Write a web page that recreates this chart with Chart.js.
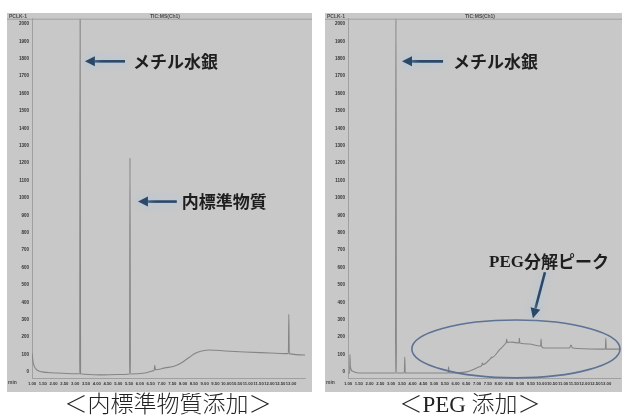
<!DOCTYPE html>
<html><head><meta charset="utf-8">
<script src="https://cdn.jsdelivr.net/npm/chart.js@4/dist/chart.umd.min.js"></script>
<style>
html,body{margin:0;padding:0;background:#fff;width:625px;height:417px;overflow:hidden;font-family:"Noto Sans CJK JP",sans-serif;}
.panel{position:absolute;background:#c8c8c8;}
#pA{left:7px;top:13px;width:305px;height:379px;}
#pB{left:325px;top:13px;width:297px;height:379px;}
.panel canvas{position:absolute;left:0;top:0;}
.hdr{position:absolute;font:bold 5px "Liberation Sans",sans-serif;color:#4a4a4a;white-space:nowrap;line-height:5px;}
.cap{position:absolute;top:392px;height:25px;line-height:25px;font-size:23px;color:#222;white-space:nowrap;text-align:center;font-family:"Liberation Serif","Noto Sans CJK JP",serif;font-weight:300;}
</style></head>
<body>
<div class="panel" id="pA">
  <canvas id="cA" width="305" height="379"></canvas>
  <div class="hdr" style="left:2px;top:1px;">PCLK-1</div>
  <div class="hdr" style="left:143px;top:1px;">TIC:MS(Ch1)</div>
  <div class="hdr" style="left:1px;top:367px;">min</div>
</div>
<div class="panel" id="pB">
  <canvas id="cB" width="297" height="379"></canvas>
  <div class="hdr" style="left:2px;top:1px;">PCLK-1</div>
  <div class="hdr" style="left:140px;top:1px;">TIC:MS(Ch1)</div>
  <div class="hdr" style="left:1px;top:367px;">min</div>
</div>
<div class="cap" style="left:40px;width:256px;">＜内標準物質添加＞</div>
<div class="cap" style="left:370px;width:200px;">＜PEG 添加＞</div>
<script>
// ---- data (retention time in min, signal intensity) ----
const timesA  = [1.00,1.05,1.12,1.23,1.46,2.06,2.99,3.21,3.23,3.25,4.15,5.00,5.52,5.54,5.56,6.23,6.60,6.66,6.69,6.72,7.16,7.62,7.99,8.31,8.59,8.87,9.24,9.94,10.86,12.02,12.88,12.90,12.92,13.65];
const signalA = [109,57,29,11,0,-6,-11,-11,2150,-11,-17,-15,-12,1230,-12,-6,6,10,38,12,23,34,57,86,109,120,126,120,114,109,105,331,105,97];

const timesB  = [1.00,1.08,1.09,1.11,1.20,1.50,3.21,3.23,3.25,3.62,3.64,3.66,5.66,5.68,5.70,6.51,6.88,7.11,7.23,7.25,7.27,7.57,7.65,7.67,7.69,8.04,8.34,8.36,8.38,8.40,8.64,8.95,8.97,8.99,9.43,9.92,9.96,9.98,10.00,10.12,11.30,11.37,11.44,12.67,12.97,12.99,13.01,13.65];
const signalB = [-6,-6,100,30,5,-6,-6,2150,-6,-6,86,-6,-6,30,-6,0,17,29,40,51,42,69,80,86,82,126,166,170,189,170,171,166,194,166,160,149,150,189,148,137,137,154,137,131,131,194,131,131];

const xTickValues = [1.0,1.5,2.0,2.5,3.0,3.5,4.0,4.5,5.0,5.5,6.0,6.5,7.0,7.5,8.0,8.5,9.0,9.5,10.0,10.5,11.0,11.5,12.0,12.5,13.0];
const yTickValues = [0,100,200,300,400,500,600,700,800,900,1000,1100,1200,1300,1400,1500,1600,1700,1800,1900,2000];

// annotations (data coordinates)
const notesA = [
  {parts:['','メチル水銀'], at:[5.68,1785], align:'left', from:[5.31,1785], to:[3.45,1785]},
  {parts:['','内標準物質'], at:[7.94,979], align:'left', from:[7.71,979], to:[5.91,979]}
];
const notesB = [
  {parts:['','メチル水銀'], at:[5.88,1785], align:'left', from:[5.42,1785], to:[3.51,1785]},
  {parts:['PEG','分解ピーク'], at:[10.35,635], align:'center', from:[10.16,573], to:[9.60,309]}
];
const ellipsesB = [ {center:[8.81,132], rx:4.84, ry:166} ];

// ---- plugin drawing annotations through the scales ----
const annotate = {
  id:'annotate',
  afterDatasetsDraw(chart, args, o){
    const ctx = chart.ctx, xs = chart.scales.x, ys = chart.scales.y;
    const px = v => xs.getPixelForValue(v), py = v => ys.getPixelForValue(v);
    const ca = chart.chartArea;
    ctx.save();
    ctx.strokeStyle = '#a0a0a0'; ctx.lineWidth = 1;
    ctx.beginPath(); ctx.moveTo(0, ca.top+0.5); ctx.lineTo(chart.width, ca.top+0.5); ctx.stroke();
    const ells = o.ellipses || [];
    for (const e of ells){
      const cx = px(e.center[0]), cy = py(e.center[1]);
      const rx = Math.abs(px(e.center[0]+e.rx)-cx), ry = Math.abs(py(e.center[1]+e.ry)-cy);
      ctx.strokeStyle = '#5d7294'; ctx.lineWidth = 1.6;
      ctx.beginPath(); ctx.ellipse(cx, cy, rx, ry, 0, 0, Math.PI*2); ctx.stroke();
    }
    const notes = o.notes || [];
    for (const n of notes){
      const x1 = px(n.from[0]), y1 = py(n.from[1]), x2 = px(n.to[0]), y2 = py(n.to[1]);
      const ang = Math.atan2(y2-y1, x2-x1), hl = 10, hw = 5;
      const bx = x2 - hl*Math.cos(ang), by = y2 - hl*Math.sin(ang);
      ctx.save();
      ctx.shadowColor = 'rgba(165,200,232,0.95)'; ctx.shadowBlur = 9;
      ctx.strokeStyle = '#2c4868'; ctx.fillStyle = '#2c4868'; ctx.lineWidth = 2.6;
      ctx.beginPath(); ctx.moveTo(x1,y1); ctx.lineTo(bx,by); ctx.stroke();
      ctx.beginPath(); ctx.moveTo(x2,y2);
      ctx.lineTo(bx - hw*Math.sin(ang), by + hw*Math.cos(ang));
      ctx.lineTo(bx + hw*Math.sin(ang), by - hw*Math.cos(ang));
      ctx.closePath(); ctx.fill();
      ctx.restore();
    }
    for (const n of notes){
      const latin = n.parts[0], rest = n.parts[1];
      const lf = 'bold 17px "Liberation Serif", serif';
      const cf = 'bold 17px "Noto Sans CJK JP", sans-serif';
      ctx.font = lf; const w1 = latin ? ctx.measureText(latin).width : 0;
      ctx.font = cf; const w2 = ctx.measureText(rest).width;
      let sx = px(n.at[0]);
      const sy = py(n.at[1]);
      if (n.align === 'center') sx -= (w1+w2)/2;
      ctx.fillStyle = '#1e1e1e'; ctx.textBaseline = 'middle'; ctx.textAlign = 'left';
      if (latin){ ctx.font = lf; ctx.fillText(latin, sx, sy+1); }
      ctx.font = cf; ctx.fillText(rest, sx+w1, sy);
    }
    ctx.restore();
  }
};

function makeChart(id, times, signal, yAxisWidth, padRight, notes, ellipses){
  return new Chart(document.getElementById(id), {
    type:'line',
    data:{datasets:[{
      data: times.map((t,i)=>({x:t, y:signal[i]})),
      borderColor:'#858585', borderWidth:1.1, pointRadius:0,
      cubicInterpolationMode:'monotone', fill:false
    }]},
    options:{
      responsive:false, animation:false, events:[],
      layout:{padding:{left:0, right:padRight, top:4, bottom:0}},
      plugins:{legend:{display:false}, tooltip:{enabled:false}, annotate:{notes:notes, ellipses:ellipses}},
      scales:{
        x:{type:'linear', min:1.0, max:13.65,
           afterBuildTicks: s => { s.ticks = xTickValues.map(v=>({value:v})); },
           afterFit: s => { s.height = 14; },
           grid:{display:false, drawTicks:false},
           border:{display:true, color:'#a0a0a0'},
           ticks:{padding:3, autoSkip:false, maxRotation:0, color:'#333', font:{size:4.2, weight:'bold', family:'Liberation Sans'},
                  callback: v => Number(v).toFixed(2)}},
        y:{type:'linear', min:-35, max:2030,
           afterBuildTicks: s => { s.ticks = yTickValues.map(v=>({value:v})); },
           afterFit: s => { s.width = yAxisWidth; },
           grid:{display:false, drawTicks:false},
           border:{display:true, color:'#a0a0a0'},
           ticks:{padding:3, autoSkip:false, color:'#333', font:{size:4.5, weight:'bold', family:'Liberation Sans'},
                  callback: v => String(v)}}
      }
    },
    plugins:[annotate]
  });
}

makeChart('cA', timesA, signalA, 25, 7, notesA, []);
makeChart('cB', timesB, signalB, 23, 2, notesB, ellipsesB);
</script>
</body></html>
